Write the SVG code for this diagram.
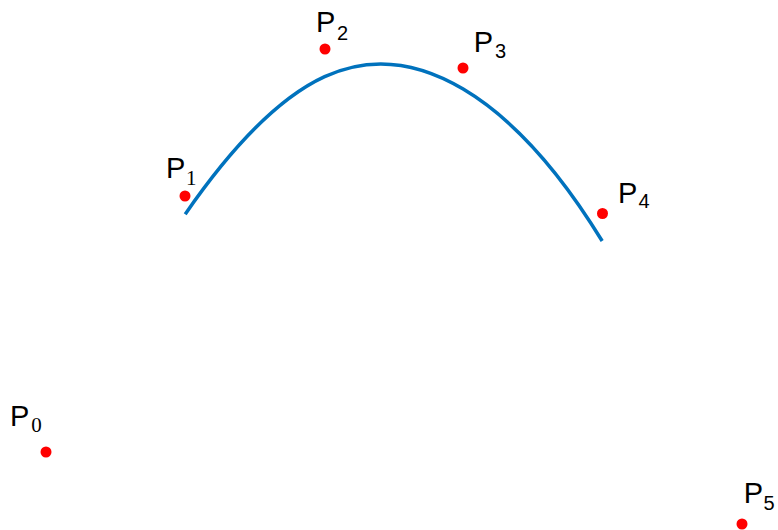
<svg xmlns="http://www.w3.org/2000/svg" width="778" height="530" viewBox="0 0 778 530">
<style>
.pt{fill:#ff0000}
.lb{font-family:"Liberation Sans",Arial,sans-serif;font-size:29px;fill:#000}
.ss{font-family:"Liberation Sans",Arial,sans-serif;font-size:20px}
.sr{font-family:"Liberation Serif","Times New Roman",serif;font-size:21px}
.curve{fill:none;stroke:#0072bd;stroke-width:3.5}
</style>
<rect width="778" height="530" fill="#fff"/>
<g id="connectors">
<path class="curve" d="M185.2,214.2 C231.67,147 278.33,98 324.67,76.67 C371,55.33 417,61.67 463.17,89.08 C509.33,116.5 555.67,165 602.17,241"/>
</g>
<g id="P0"><circle class="pt" cx="46" cy="452" r="5.5"/><text class="lb" x="10.1" y="426.3">P<tspan class="sr" x="31.2" y="432">0</tspan></text></g>
<g id="P1"><circle class="pt" cx="185" cy="196" r="5.5"/><text class="lb" x="166.1" y="178.3">P<tspan class="sr" x="186" y="185">1</tspan></text></g>
<g id="P2"><circle class="pt" cx="325" cy="49" r="5.5"/><text class="lb" x="316.1" y="31.7">P<tspan class="ss" x="337.1" y="40">2</tspan></text></g>
<g id="P3"><circle class="pt" cx="463" cy="68" r="5.5"/><text class="lb" x="473.8" y="51.7">P<tspan class="ss" x="494.9" y="58.3">3</tspan></text></g>
<g id="P4"><circle class="pt" cx="602.5" cy="213.5" r="5.5"/><text class="lb" x="618.1" y="202.7">P<tspan class="ss" x="638.4" y="208.3">4</tspan></text></g>
<g id="P5"><circle class="pt" cx="742" cy="524" r="5.5"/><text class="lb" x="743.8" y="503.3">P<tspan class="ss" x="763.5" y="510">5</tspan></text></g>
</svg>
